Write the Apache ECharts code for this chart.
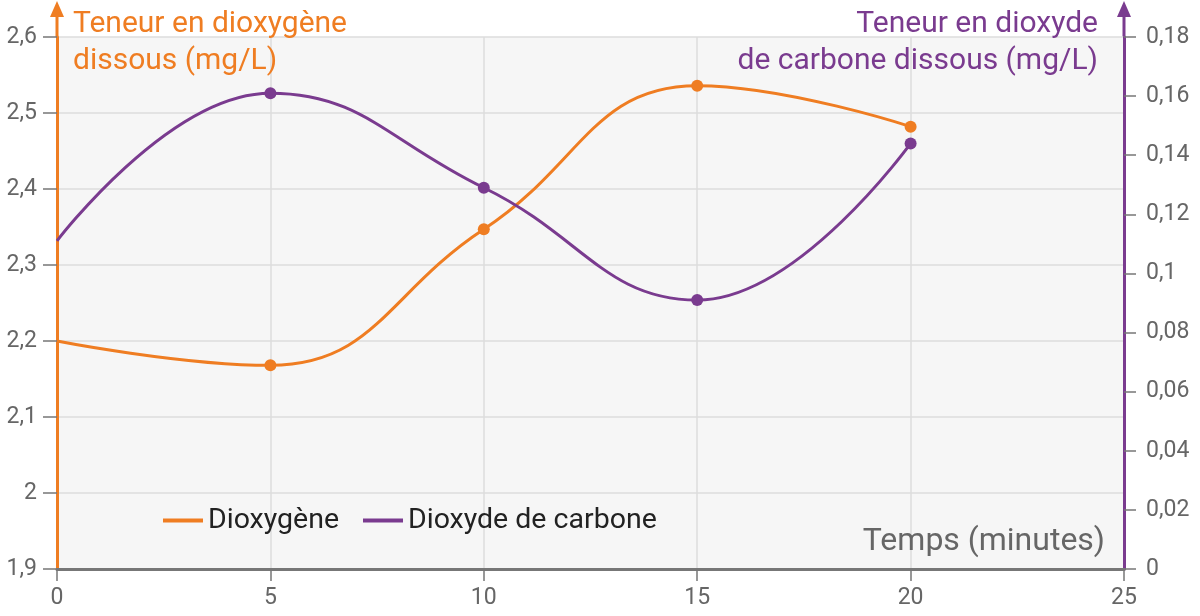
<!DOCTYPE html>
<html>
<head>
<meta charset="utf-8">
<script src="https://cdn.jsdelivr.net/npm/echarts@6/dist/echarts.min.js"></script>
<style>
  html, body { margin: 0; padding: 0; background: #fff; }
  #chart { width: 1200px; height: 616px; }
</style>
</head>
<body>
<div id="chart"></div>
<script>
// readings taken every 5 minutes
const times = [0, 5, 10, 15, 20];
const oxygen = [2.2, 2.168, 2.347, 2.536, 2.482];
const co2 = [0.111, 0.161, 0.129, 0.091, 0.144];
const seriesNames = ['Dioxygène', 'Dioxyde de carbone'];

const ORANGE = '#ef7d22';
const PURPLE = '#7a3b8f';
const GREY = '#777';
const FONT = 'Roboto';

const gridLeft = 57, gridRight = 76, gridTop = 37, gridBottom = 47;

const comma = (v) => String(+v.toFixed(2)).replace('.', ',');

const toPoints = (vals) => times.map((t, i) => ({
  value: [t, vals[i]],
  symbol: i === 0 ? 'none' : 'circle'
}));

// small arrow heads on top of both vertical axes
function axisArrow(x, color) {
  return [{
    type: 'line',
    shape: { x1: x, y1: gridTop, x2: x, y2: 14 },
    style: { stroke: color, lineWidth: 3 }
  }, {
    type: 'polygon',
    shape: { points: [[x, 1], [x - 7, 17], [x + 7, 17]] },
    style: { fill: color }
  }];
}

const chart = echarts.init(document.getElementById('chart'));
const rightX = 1200 - gridRight;

chart.setOption({
  animation: false,
  textStyle: { fontFamily: FONT },
  grid: {
    left: gridLeft, right: gridRight, top: gridTop, bottom: gridBottom,
    show: true, backgroundColor: '#f6f6f6', borderWidth: 0
  },
  legend: {
    data: seriesNames,
    left: 158, top: 501,
    icon: 'rect', itemWidth: 40, itemHeight: 4, itemGap: 24,
    textStyle: { fontSize: 28.5, color: '#222', fontFamily: FONT }
  },
  xAxis: {
    type: 'value', min: 0, max: 25, interval: 5,
    name: 'Temps (minutes)',
    nameLocation: 'end', nameGap: -19,
    nameTextStyle: {
      fontSize: 32, color: '#666', align: 'right', verticalAlign: 'bottom',
      padding: [0, 0, 11, 0]
    },
    axisLine: { lineStyle: { color: GREY, width: 3 } },
    axisTick: { length: 12, lineStyle: { color: GREY, width: 1.5 } },
    axisLabel: { fontSize: 23, color: '#666', margin: 18 },
    splitLine: { show: true, lineStyle: { color: '#dcdcdc', width: 1.5 } }
  },
  yAxis: [{
    type: 'value', position: 'left', min: 1.9, max: 2.6, interval: 0.1,
    name: 'Teneur en dioxygène\ndissous (mg/L)',
    nameLocation: 'end', nameGap: 31,
    nameTextStyle: {
      fontSize: 30, color: ORANGE, align: 'left', verticalAlign: 'top',
      lineHeight: 37, padding: [0, 0, 0, 16]
    },
    axisLine: { show: true, lineStyle: { color: ORANGE, width: 3 } },
    axisTick: { show: true, length: 14, lineStyle: { color: GREY, width: 1.5 } },
    axisLabel: { fontSize: 23, color: '#666', margin: 20, formatter: comma },
    splitLine: { show: true, lineStyle: { color: '#dcdcdc', width: 1.5 } }
  }, {
    type: 'value', position: 'right', min: 0, max: 0.18, interval: 0.02,
    name: 'Teneur en dioxyde\nde carbone dissous (mg/L)',
    nameLocation: 'end', nameGap: 31,
    nameTextStyle: {
      fontSize: 30, color: PURPLE, align: 'right', verticalAlign: 'top',
      lineHeight: 37, padding: [0, 26, 0, 0]
    },
    axisLine: { show: true, lineStyle: { color: PURPLE, width: 3 } },
    axisTick: { show: true, length: 12, lineStyle: { color: GREY, width: 1.5 } },
    axisLabel: { fontSize: 23, color: '#666', margin: 22, formatter: comma },
    splitLine: { show: false }
  }],
  series: [{
    name: seriesNames[0], type: 'line', yAxisIndex: 0,
    smooth: 0.45, symbol: 'circle', symbolSize: 12,
    color: ORANGE, lineStyle: { width: 3 },
    data: toPoints(oxygen)
  }, {
    name: seriesNames[1], type: 'line', yAxisIndex: 1,
    smooth: 0.45, symbol: 'circle', symbolSize: 12,
    color: PURPLE, lineStyle: { width: 3 },
    data: toPoints(co2)
  }],
  graphic: [...axisArrow(gridLeft, ORANGE), ...axisArrow(rightX, PURPLE)]
});
</script>
</body>
</html>
